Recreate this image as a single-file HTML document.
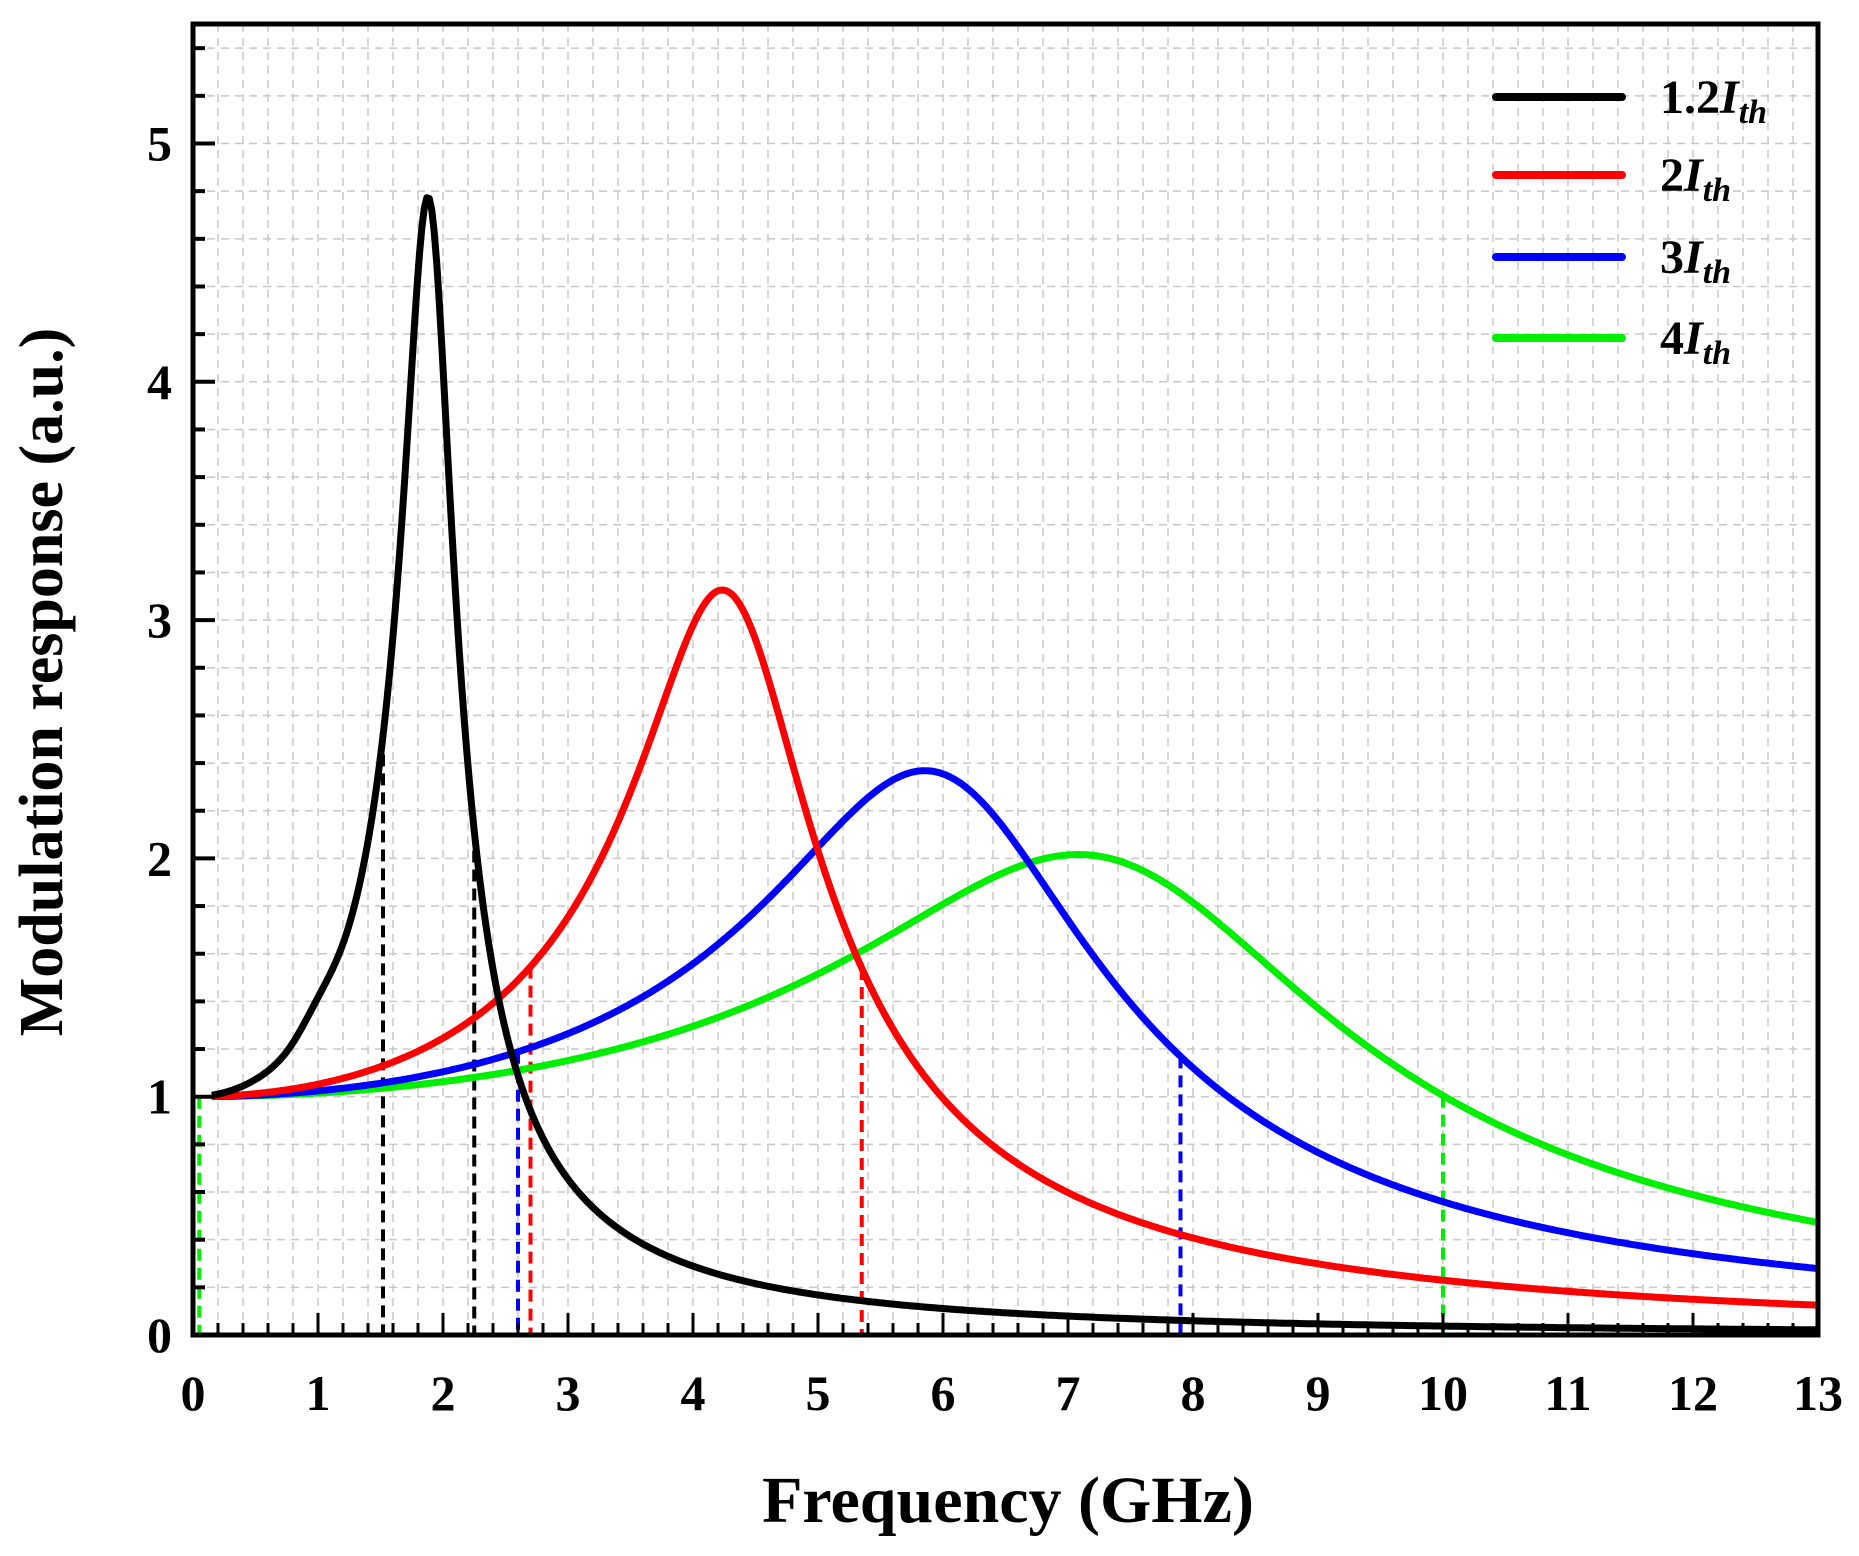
<!DOCTYPE html>
<html><head><meta charset="utf-8"><style>
html,body{margin:0;padding:0;background:#fff;}
svg{display:block;font-family:"Liberation Serif",serif;font-weight:bold;}
</style></head><body>
<svg id="s" width="1859" height="1556" viewBox="0 0 1859 1556" xmlns="http://www.w3.org/2000/svg">
<g id="grid"></g>
<g id="dash"></g>
<g id="curves"></g>
<g id="ticks"></g>
<rect x="193" y="24" width="1625" height="1311" fill="none" stroke="#000" stroke-width="5"/>
<g id="labels" font-size="50" fill="#000"></g>
<text x="1008" y="1522" font-size="66" text-anchor="middle">Frequency (GHz)</text>
<text transform="translate(62,682) rotate(-90)" font-size="62" text-anchor="middle">Modulation response (a.u.)</text>
<g font-size="48">
<line x1="1496" y1="97" x2="1622" y2="97" stroke="#000" stroke-width="8" stroke-linecap="round"/>
<text x="1660" y="113">1.2<tspan font-style="italic">I</tspan><tspan font-style="italic" font-size="34" dy="10">th</tspan></text>
<line x1="1496" y1="175" x2="1622" y2="175" stroke="#ff0000" stroke-width="8" stroke-linecap="round"/>
<text x="1660" y="191">2<tspan font-style="italic">I</tspan><tspan font-style="italic" font-size="34" dy="10">th</tspan></text>
<line x1="1496" y1="257" x2="1622" y2="257" stroke="#0000ff" stroke-width="8" stroke-linecap="round"/>
<text x="1660" y="273">3<tspan font-style="italic">I</tspan><tspan font-style="italic" font-size="34" dy="10">th</tspan></text>
<line x1="1496" y1="338" x2="1622" y2="338" stroke="#00ee00" stroke-width="8" stroke-linecap="round"/>
<text x="1660" y="354">4<tspan font-style="italic">I</tspan><tspan font-style="italic" font-size="34" dy="10">th</tspan></text>
</g>
</svg>
<script>
var NS="http://www.w3.org/2000/svg";
var L=193,R=1818,B=1335,T=24,XS=125,YS=238.3;
function X(f){return L+f*XS}function Y(v){return B-v*YS}
function el(p,t,a){var e=document.createElementNS(NS,t);for(var k in a)e.setAttribute(k,a[k]);document.getElementById(p).appendChild(e);return e}
for(var i=1;i<65;i++){var x=X(i*0.2);el("grid","line",{x1:x,y1:T,x2:x,y2:B,stroke:"#c8c8c8","stroke-width":1.5,"stroke-dasharray":"8,6"})}
for(var j=1;j<28;j++){var y=Y(j*0.2);el("grid","line",{x1:L,y1:y,x2:R,y2:y,stroke:"#c8c8c8","stroke-width":1.5,"stroke-dasharray":"8,6"})}
for(var i=0;i<=65;i++){var x=X(i*0.2),maj=(i%5==0);el("ticks","line",{x1:x,y1:B,x2:x,y2:B-(maj?22:12),stroke:"#000","stroke-width":3})}
for(var j=0;j<=27;j++){var y=Y(j*0.2),maj=(j%5==0);el("ticks","line",{x1:L,y1:y,x2:L+(maj?22:12),y2:y,stroke:"#000","stroke-width":4})}
for(var i=0;i<=13;i++){var t=el("labels","text",{x:X(i),y:1410,"text-anchor":"middle"});t.textContent=i}
for(var j=0;j<=5;j++){var t=el("labels","text",{x:172,y:Y(j)+17,"text-anchor":"end"});t.textContent=j}
function H(f,fr,d){var a=fr*fr;return a/Math.sqrt(Math.pow(a-f*f,2)+Math.pow(d*f,2))}
var S=[["#000",1.9,0.4],["#ff0000",4.35,1.41],["#0000ff",6.15,2.66],["#00ee00",7.6,3.9]];
var D=[["#00ee00",0.05,3],["#00ee00",10.0,3],["#000",1.52,0],["#000",2.25,0],["#0000ff",2.6,2],["#0000ff",7.9,2],["#ff0000",2.7,1],["#ff0000",5.35,1]];
D.forEach(function(d){var s=S[d[2]];var v=H(d[1],s[1],s[2]);el("dash","line",{x1:X(d[1]),y1:Y(v),x2:X(d[1]),y2:B,stroke:d[0],"stroke-width":4,"stroke-dasharray":"12,7"})});
S.slice().reverse().forEach(function(s){var p="";for(var f=0.15;f<=13.0001;f+=0.02){var v=H(f,s[1],s[2]);if(s[1]<2)v+=0.05*Math.exp(-Math.pow((f-1.0)/0.2,2));p+=(p?"L":"M")+X(f).toFixed(1)+","+Y(v).toFixed(1)}el("curves","path",{d:p,fill:"none",stroke:s[0],"stroke-width":7,"stroke-linejoin":"round"})});
</script>
</body></html>
